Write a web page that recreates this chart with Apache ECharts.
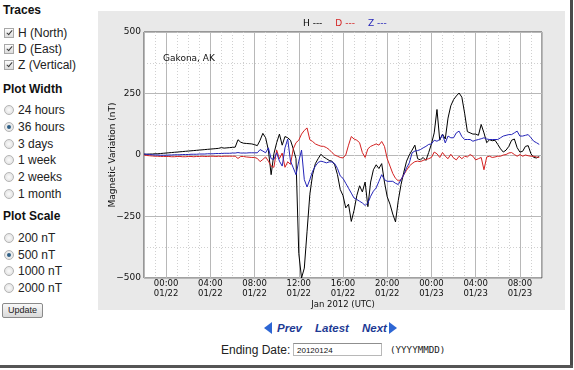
<!DOCTYPE html>
<html><head><meta charset="utf-8">
<script src="https://cdn.jsdelivr.net/npm/echarts@6/dist/echarts.min.js"></script>
<style>
html,body{margin:0;padding:0;background:#fff;}
body{width:574px;height:370px;position:relative;overflow:hidden;font-family:"Liberation Sans",Arial,sans-serif;color:#222;}
.a{position:absolute;white-space:nowrap;line-height:14px;}
.h{font-weight:bold;font-size:12px;color:#111;left:3px;}
.l{font-size:12px;left:18px;}
.cb{position:absolute;left:4px;width:8px;height:8px;border:1px solid #a8a8a8;background:linear-gradient(#fdfdfd,#dcdcdc);}
.cb:after{content:"";position:absolute;left:2.5px;top:0px;width:2px;height:5px;border-right:1.5px solid #3a3a3a;border-bottom:1.5px solid #3a3a3a;transform:rotate(40deg);}
.rb{position:absolute;left:4px;width:8px;height:8px;border:1px solid #b4b4b4;border-radius:50%;background:radial-gradient(#fbfbfb,#dcdcdc);}
.rb.on:after{content:"";position:absolute;left:2px;top:2px;width:4px;height:4px;border-radius:50%;background:#2f5f86;}
#chart{position:absolute;left:98px;top:11px;width:467px;height:299px;}
.nav{position:absolute;font-weight:bold;font-style:italic;font-size:11.5px;color:#1e3a94;line-height:14px;top:321px;}
.tl{position:absolute;top:322px;width:0;height:0;border-top:6px solid transparent;border-bottom:6px solid transparent;}
</style></head>
<body>
<div class="a h" style="top:3px">Traces</div>
<div class="cb" style="top:28px"></div><div class="a l" style="top:26px">H (North)</div>
<div class="cb" style="top:44px"></div><div class="a l" style="top:42px">D (East)</div>
<div class="cb" style="top:60px"></div><div class="a l" style="top:58px">Z (Vertical)</div>
<div class="a h" style="top:82px">Plot Width</div>
<div class="rb" style="top:105px"></div><div class="a l" style="top:103px">24 hours</div>
<div class="rb on" style="top:122px"></div><div class="a l" style="top:120px">36 hours</div>
<div class="rb" style="top:139px"></div><div class="a l" style="top:137px">3 days</div>
<div class="rb" style="top:155px"></div><div class="a l" style="top:153px">1 week</div>
<div class="rb" style="top:172px"></div><div class="a l" style="top:170px">2 weeks</div>
<div class="rb" style="top:189px"></div><div class="a l" style="top:187px">1 month</div>
<div class="a h" style="top:209px">Plot Scale</div>
<div class="rb" style="top:233px"></div><div class="a l" style="top:231px">200 nT</div>
<div class="rb on" style="top:250px"></div><div class="a l" style="top:248px">500 nT</div>
<div class="rb" style="top:266px"></div><div class="a l" style="top:264px">1000 nT</div>
<div class="rb" style="top:283px"></div><div class="a l" style="top:281px">2000 nT</div>
<div style="position:absolute;left:2px;top:303px;width:39px;height:13px;border:1px solid #8a8a8a;border-radius:2px;background:linear-gradient(#f8f8f8,#d9d9d9);font-size:9px;line-height:13px;text-align:center;color:#222;">Update</div>

<div id="chart"></div>

<div class="tl" style="left:264px;border-right:8px solid #2d66d4;"></div>
<div class="nav" style="left:277px">Prev</div>
<div class="nav" style="left:315px">Latest</div>
<div class="nav" style="left:362px">Next</div>
<div class="tl" style="left:389px;border-left:8px solid #2d66d4;"></div>
<div class="a" style="left:221px;top:343px;font-size:12px;">Ending Date:</div>
<div style="position:absolute;left:293px;top:343px;width:89px;height:13px;border:1px solid #b8b8b8;border-top-color:#8f8f8f;background:#fff;font-size:8px;line-height:13px;padding-left:3px;box-sizing:border-box;color:#111;">20120124</div>
<div class="a" style="left:390px;top:343px;font-size:9.2px;font-family:'DejaVu Sans Mono',monospace;">(YYYYMMDD)</div>

<div style="position:absolute;left:570px;top:0;width:3px;height:368px;background:#4a4a4a;"></div>
<div style="position:absolute;left:0;top:365px;width:573px;height:3px;background:#555;"></div>

<script>
// sample grid: hours relative to 2012-01-22 00:00 UTC, every 15 minutes
const startHour = -2;
const stepHours = 0.25;

const hValues = [
  3, 3, 4, 4, 5, 5, 6, 7,
  8, 9, 10, 11, 12, 13, 14, 15,
  16, 17, 18, 19, 20, 21, 22, 23,
  24, 25, 26, 27, 30, 28, 29, 30,
  31, 32, 62, 52, 48, 47, 46, 45,
  42, 38, 60, 88, 70, 20, -80, 5,
  50, 85, 40, 75, 70, 60, 25, -15,
  -400, -500, -460, -310, -160, -80, -35, -15,
  3, -8, -15, -22, -25, -40, -80, -140,
  -165, -215, -200, -270, -225, -165, -125, -150,
  -110, -210, -110, -60, -40, -55, -35, -110,
  -170, -200, -240, -272, -185, -120, -70, -25,
  0, 20, 40, -15, -20, -10, -22, 10,
  45, 90, 185, 60, 85, 65, 150, 200,
  225, 240, 252, 235, 170, 95, 90, 85,
  85, 80, 124, 90, 50, 62, 58, 60,
  43, 25, 12, 20, 35, 60, 65, 30,
  12, 15, 35, 38, 5, -10, -12, -6
];
const dValues = [
  0, -2, -3, -4, -5, -5, -6, -6,
  -6, -6, -7, -7, -6, -6, -7, -7,
  -6, -6, -7, -6, -6, -5, -6, -6,
  -5, -5, -6, -5, -6, -5, -5, -5,
  -5, -5, -14, -6, -6, -8, -9, -10,
  -10, -14, -27, -18, -8, -25, -45, -50,
  20, -15, 8, -50, -28, -38, 25, 50,
  60, 85, 100, 110, 62, 55, 45, 40,
  36, 35, 30, 22, 10, 0, -5, -10,
  -12, 0, 40, 75, 65, 60, 50, 10,
  -10, 25, 35, 40, 45, 40, 55, 35,
  -15, -45, -75, -95, -105, -100, -80, -62,
  -45, -35, -27, -25, -27, -22, -18, -15,
  -10, 12, 5, -10, 10, -5, -15, 3,
  -12, -20, -5, -15, -5, -8, 2, -5,
  -20, -15, -10, -60, -8, -5, -10, -8,
  -5, -5, 0, 2, 8, 10, 2, -5,
  2, -5, 0, -3, -5, -5, -8, -10
];
const zValues = [
  4, 3, 2, 1, 0, 0, -1, -1,
  -1, 0, 0, 1, 1, 1, 2, 2,
  2, 3, 3, 3, 4, 4, 4, 5,
  5, 5, 6, 6, 6, 7, 7, 7,
  8, 8, 10, 8, 8, 8, 9, 9,
  9, 9, 22, 16, 9, 29, -15, -18,
  9, -25, -45, 29, 65, -25, -52, -80,
  -25, 20, -100, -130, -100, -66, -45, -30,
  -25, -28, -32, -28, -28, -35, -55, -85,
  -95, -115, -135, -155, -175, -181, -188, -195,
  -205, -195, -168, -147, -134, -107, -80, -100,
  -107, -107, -107, -115, -120, -100, -80, -52,
  -32, 9, 16, 18, 22, 29, 35, 43,
  45, 60, 56, 63, 83, 49, 77, 70,
  70, 90, 97, 75, 63, 63, 63, 56,
  60, 63, 66, 70, 65, 63, 63, 63,
  63, 70, 77, 80, 83, 83, 90, 97,
  77, 77, 80, 83, 70, 56, 50, 43
];

const tickHours = [0, 4, 8, 12, 16, 20, 24, 28, 32];
const tickLabels = ['00:00\n01/22','04:00\n01/22','08:00\n01/22','12:00\n01/22','16:00\n01/22','20:00\n01/22','00:00\n01/23','04:00\n01/23','08:00\n01/23'];
const seriesNames = ['H', 'D', 'Z'];
const seriesColors = ['#000000', '#d42222', '#2424b8'];

function pairs(vals) { return vals.map((v, i) => [startHour + i * stepHours, v]); }

const font = 'DejaVu Sans';
const chart = echarts.init(document.getElementById('chart'));
chart.setOption({
  animation: false,
  backgroundColor: '#e9e9e9',
  textStyle: { fontFamily: font },
  legend: {
    left: 200, top: 8, padding: 0, icon: 'none', itemWidth: 0, itemHeight: 0, itemGap: 8,
    selectedMode: false,
    textStyle: { fontSize: 9, fontFamily: font },
    formatter: n => n + ' ---',
    data: seriesNames.map((n, i) => ({ name: n, textStyle: { color: seriesColors[i] } }))
  },
  graphic: [{ type: 'text', left: 65, top: 43, z: 100, zlevel: 1, style: { text: 'Gakona, AK', font: '9px "DejaVu Sans"', fill: '#111' } }],
  grid: { left: 46, top: 21, width: 398, height: 246, show: true, backgroundColor: '#ffffff', borderColor: '#444', borderWidth: 1,
          containLabel: false, outerBoundsMode: 'none' },
  xAxis: [
    { type: 'value', min: -2, max: 34, interval: 1,
      axisLine: { show: false }, axisTick: { show: false }, axisLabel: { show: false },
      splitLine: { show: true, lineStyle: { color: '#d0d0d0', type: [1, 2], width: 1 } } },
    { type: 'value', min: -2, max: 34, minInterval: 4, maxInterval: 4, position: 'bottom',
      axisLine: { show: false }, axisTick: { show: false },
      axisLabel: { showMinLabel: false, showMaxLabel: false, fontSize: 8.5, color: '#111', lineHeight: 10, margin: 1,
        formatter: v => { const k = tickHours.indexOf(v); return k >= 0 ? tickLabels[k] : ''; } },
      splitLine: { show: true, lineStyle: { color: '#b8b8b8', width: 1 } },
      name: 'Jan 2012 (UTC)', nameLocation: 'middle', nameGap: 22, nameMoveOverlap: false,
      nameTextStyle: { fontSize: 8.5, color: '#111' } }
  ],
  yAxis: {
    type: 'value', min: -500, max: 500, interval: 250,
    axisLine: { show: false }, axisTick: { show: false },
    axisLabel: { fontSize: 9, color: '#111', margin: 3, formatter: v => v < 0 ? '\u2212' + Math.abs(v) : String(v) },
    splitLine: { show: true, lineStyle: { color: '#b8b8b8', width: 1 } },
    minorTick: { show: false, splitNumber: 2 },
    minorSplitLine: { show: true, lineStyle: { color: '#d0d0d0', type: [1, 2], width: 1 } },
    name: 'Magnetic Variation (nT)', nameLocation: 'middle', nameGap: 27, nameMoveOverlap: false,
    nameTextStyle: { fontSize: 9, color: '#111' }
  },
  series: [hValues, dValues, zValues].map((vals, i) => ({
    name: seriesNames[i], type: 'line', xAxisIndex: 0, data: pairs(vals),
    showSymbol: false, symbol: 'none', lineStyle: { width: 1, color: seriesColors[i] },
    itemStyle: { color: seriesColors[i] }, clip: true
  }))
});
</script>
</body></html>
